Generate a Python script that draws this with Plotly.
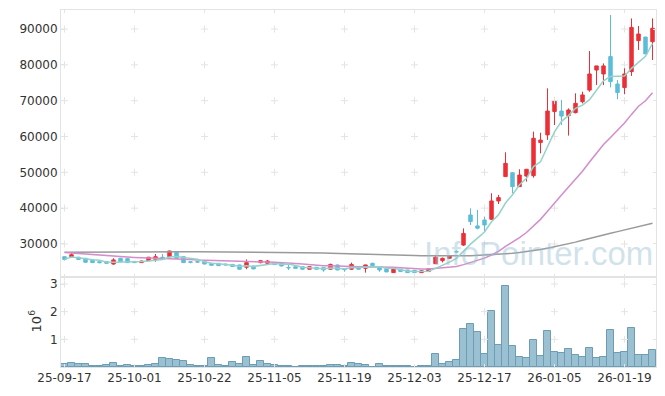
import pandas as pd
import plotly.graph_objects as go

dates = ["25-09-17","25-09-18","25-09-19","25-09-22","25-09-23","25-09-24","25-09-25","25-09-26","25-09-29","25-09-30",
         "25-10-01","25-10-02","25-10-10","25-10-13","25-10-14","25-10-15","25-10-16","25-10-17","25-10-20","25-10-21",
         "25-10-22","25-10-23","25-10-24","25-10-27","25-10-28","25-10-29","25-10-30","25-10-31","25-11-03","25-11-04",
         "25-11-05","25-11-06","25-11-07","25-11-10","25-11-11","25-11-12","25-11-13","25-11-14","25-11-17","25-11-18",
         "25-11-19","25-11-20","25-11-21","25-11-24","25-11-25","25-11-26","25-11-27","25-11-28","25-12-01","25-12-02",
         "25-12-03","25-12-04","25-12-05","25-12-08","25-12-09","25-12-10","25-12-11","25-12-12","25-12-15","25-12-16",
         "25-12-17","25-12-18","25-12-19","25-12-22","25-12-23","25-12-24","25-12-26","25-12-29","25-12-30","26-01-02",
         "26-01-05","26-01-06","26-01-07","26-01-08","26-01-09","26-01-12","26-01-13","26-01-14","26-01-15","26-01-16",
         "26-01-19","26-01-20","26-01-21","26-01-22","26-01-23"]

open_ = [26450,26450,26300,26000,25550,25050,25100,24400,26000,25900,
         25150,24800,25350,25700,26300,26450,27600,26450,25050,25050,
         25050,24600,24600,24400,24300,24150,23500,23850,24800,24600,
         24800,24800,23450,23650,23650,22950,23500,23400,22950,24150,
         23000,22950,23650,23200,24600,23650,23100,22000,22950,22750,
         22650,22000,22300,24500,25350,26000,27900,29700,38100,35050,
         36700,36900,42000,48800,49900,46000,48950,49050,58300,60450,
         66950,67100,65800,66650,69700,72950,78550,77450,82300,74650,
         73650,78100,86750,87750,86450]
high = [26500,27600,26400,26100,25600,25100,25200,26000,26100,26000,
        25250,25300,26400,27200,27200,28100,27700,26500,25100,25150,
        25100,24650,24650,24450,24350,24200,25700,23900,25550,25550,
        24900,24850,24600,23700,23700,23700,23550,23450,24500,24200,
        23200,24800,23700,24200,24800,23700,23150,23000,23000,22800,
        22700,22600,23100,26950,26200,26850,28200,34350,39950,39500,
        37650,44150,43700,55600,49900,50850,50900,61350,61050,73450,
        70950,70200,67850,72050,72500,83850,79700,80400,93900,75750,
        79300,92950,90850,87800,92950]
low = [25400,26100,25600,24800,24700,24600,24500,24200,24950,24700,
       24700,24700,25250,25050,25650,26400,25900,24700,24600,24800,
       24350,24000,23900,24100,23650,22900,22950,22950,24600,24350,
       24150,23800,22750,23150,22900,22900,22900,22250,22900,22700,
       22250,22750,22900,22000,23900,22250,22150,21950,22250,21950,
       21950,21950,22250,24400,24850,25950,27600,29450,35300,34100,
       33450,36700,41150,48800,44150,46000,47400,48500,55300,59050,
       63200,63200,60250,66450,69250,72500,74350,74350,73700,70400,
       71800,76900,84150,83000,81350]
close = [25700,27000,25700,24900,24800,24800,24600,25550,25050,24800,
         24800,25250,26300,26450,25700,28050,26000,24800,24900,24950,
         24400,24050,23950,24150,23700,22950,24800,23050,25350,25250,
         24250,23850,23350,23200,22950,23650,22950,22750,24300,22750,
         22850,24300,22950,24150,23950,22750,22200,22950,22300,22000,
         22000,22550,23050,26300,26000,26750,27800,32950,36250,34400,
         35300,42000,42950,52500,46000,49250,50850,59500,59000,67100,
         69900,65700,67400,69250,71600,77450,79700,79700,75300,72250,
         77450,90450,88600,83050,90200]
volume_m = [0.10,0.13,0.10,0.10,0.04,0.04,0.06,0.13,0.04,0.06,
            0.03,0.03,0.06,0.10,0.31,0.28,0.25,0.22,0.06,0.03,
            0.03,0.31,0.06,0.03,0.17,0.10,0.35,0.06,0.20,0.10,
            0.06,0.03,0.03,0.0,0.03,0.03,0.03,0.04,0.06,0.06,
            0.03,0.13,0.10,0.06,0.0,0.10,0.03,0.03,0.03,0.03,
            0.0,0.03,0.03,0.47,0.10,0.17,0.25,1.36,1.54,1.25,
            0.46,2.01,0.78,2.93,0.75,0.35,0.31,0.96,0.39,1.29,
            0.53,0.49,0.64,0.42,0.35,0.67,0.31,0.35,1.33,0.49,
            0.53,1.40,0.42,0.42,0.60]
# 20-day MA for the first 19 sessions (earlier closes not shown)
ma20_head = [27600,27450,27250,27100,26950,26800,26650,26550,26450,26350,
             26250,26150,26100,26050,26000,26000,25950,25800,25650]
# long moving average (grey line)
ma_long = [27700,27720,27740,27760,27780,27800,27810,27820,27830,27840,
           27850,27850,27860,27860,27860,27870,27870,27860,27860,27850,
           27840,27830,27820,27810,27800,27790,27780,27760,27740,27720,
           27700,27670,27640,27610,27580,27550,27510,27470,27430,27390,
           27350,27300,27250,27200,27150,27090,27030,26960,26890,26820,
           26760,26710,26680,26660,26650,26650,26660,26690,26740,26830,
           26930,27000,27100,27210,27400,27620,27860,28150,28460,28790,
           29180,29590,30000,30520,31050,31580,32050,32520,32980,33450,
           33910,34370,34840,35300,35770]

price_ticks = [30000, 40000, 50000, 60000, 70000, 80000, 90000]
vol_ticks = [1, 2, 3]
vol_tick_labels = ["1", "2", "3"]
x_ticks = dates[::10]

closes = pd.Series(close)
ma5 = closes.rolling(5, min_periods=1).mean()
ma20 = closes.rolling(20).mean()
ma20 = list(ma20_head) + list(ma20.iloc[len(ma20_head):])
volume = [v * 1e6 for v in volume_m]

FONT = "DejaVu Sans"
GRID = "#e4e4e4"
LINE = "#e3e3e3"

fig = go.Figure()

fig.add_trace(go.Candlestick(
    x=dates, open=open_, high=high, low=low, close=close,
    increasing=dict(line=dict(color="#ec2f37", width=1), fillcolor="#ec2f37"),
    decreasing=dict(line=dict(color="#5cbdd8", width=1), fillcolor="#5cbdd8"),
    whiskerwidth=0, showlegend=False, xaxis="x", yaxis="y"))

# "+" grid marks at tick intersections
gx, gy = [], []
for xv in x_ticks:
    for yv in price_ticks:
        gx.append(xv); gy.append(yv)
fig.add_trace(go.Scatter(x=gx, y=gy, mode="markers", hoverinfo="skip", showlegend=False,
                         marker=dict(symbol="cross-thin", size=5, line=dict(color=GRID, width=1)),
                         xaxis="x", yaxis="y"))
gx2, gy2 = [], []
for xv in x_ticks:
    for yv in vol_ticks:
        gx2.append(xv); gy2.append(yv * 1e6)
fig.add_trace(go.Scatter(x=gx2, y=gy2, mode="markers", hoverinfo="skip", showlegend=False,
                         marker=dict(symbol="cross-thin", size=5, line=dict(color=GRID, width=1)),
                         xaxis="x2", yaxis="y2"))

fig.add_trace(go.Scatter(x=dates, y=ma_long, mode="lines", line=dict(color="#9a9a9a", width=1.5),
                         showlegend=False, xaxis="x", yaxis="y"))
fig.add_trace(go.Scatter(x=dates, y=ma20, mode="lines", line=dict(color="#d48ccb", width=1.5),
                         showlegend=False, xaxis="x", yaxis="y"))
fig.add_trace(go.Scatter(x=dates, y=list(ma5), mode="lines", line=dict(color="#95d3ca", width=1.5),
                         showlegend=False, xaxis="x", yaxis="y"))

fig.add_trace(go.Bar(x=dates, y=volume, marker=dict(color="#9ac0d1", line=dict(color="#6a9db6", width=1)),
                     showlegend=False, xaxis="x2", yaxis="y2"))

split = 90 / 357
axis_common = dict(showline=True, linecolor=LINE, linewidth=1, mirror="ticks", ticks="inside",
                   ticklen=3, tickcolor=GRID, showgrid=False, zeroline=False,
                   tickfont=dict(family=FONT, size=12, color="#333"))

fig.update_layout(
    width=665, height=396,
    # the page body adds an 8px offset; margins compensate so the plot sits where the reference has it
    margin=dict(l=53, r=17, t=2, b=37, autoexpand=False),
    paper_bgcolor="white", plot_bgcolor="white",
    bargap=0,
    xaxis=dict(type="category", categoryorder="array", categoryarray=dates,
               domain=[0, 1], anchor="y", range=[-0.5, len(dates) - 0.5],
               tickmode="array", tickvals=x_ticks, showticklabels=False,
               rangeslider=dict(visible=False), **axis_common),
    yaxis=dict(domain=[split, 1], anchor="x", range=[20784, 95303],
               tickmode="array", tickvals=price_ticks, ticktext=[str(v) for v in price_ticks],
               **axis_common),
    xaxis2=dict(type="category", categoryorder="array", categoryarray=dates,
                domain=[0, 1], anchor="y2", matches="x",
                range=[-0.5, len(dates) - 0.5], tickangle=0,
                tickmode="array", tickvals=x_ticks, ticktext=x_ticks, **axis_common),
    yaxis2=dict(domain=[0, split], anchor="x2", range=[0, 3.253e6],
                tickmode="array", tickvals=[v * 1e6 for v in vol_ticks], ticktext=vol_tick_labels,
                **axis_common),
    annotations=[
        dict(text="InfoPointer.com", xref="paper", yref="paper", x=0.803, y=0.318,
             xanchor="center", yanchor="middle", showarrow=False,
             font=dict(family="Liberation Sans", size=33, color="rgba(150,190,210,0.45)")),
        dict(text="10<sup>6</sup>", xref="paper", yref="paper", x=-0.044, y=0.13,
             xanchor="center", yanchor="middle", showarrow=False, textangle=-90,
             font=dict(family=FONT, size=13, color="#333")),
    ],
)

fig.write_html("out.html")
